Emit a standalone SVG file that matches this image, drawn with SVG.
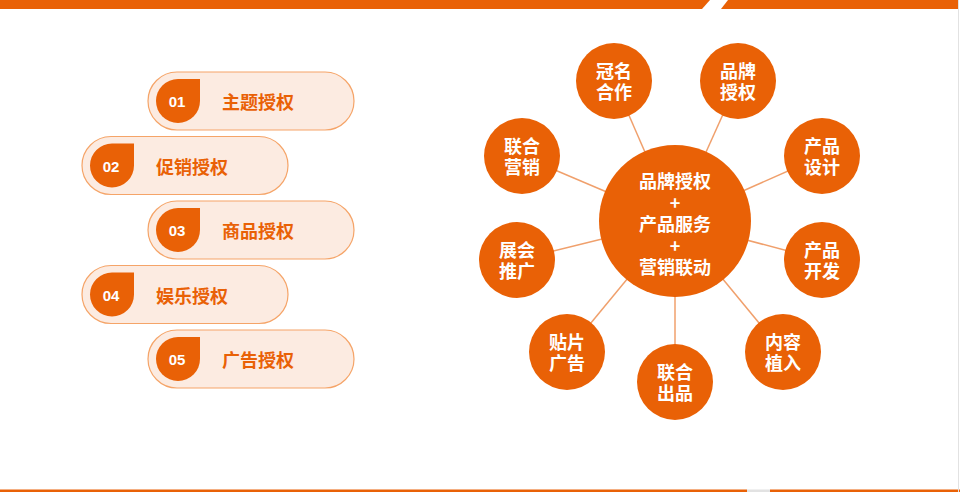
<svg xmlns="http://www.w3.org/2000/svg" width="960" height="492" viewBox="0 0 960 492">
<style>
.pill{fill:#FCEBE1;stroke:#F5A468;stroke-width:1.2}
.badge{fill:#E96106}
.num{font-family:"Liberation Sans",Arial,sans-serif;font-weight:bold;font-size:15px;fill:#FFFFFF;text-anchor:middle;dominant-baseline:central}
.lbl{font-family:"Noto Sans CJK SC","Noto Sans",sans-serif;font-weight:bold;font-size:18px;fill:#E96106;text-anchor:middle;dominant-baseline:central}
.node{fill:#E96106}
.ntx{font-family:"Noto Sans CJK SC","Noto Sans",sans-serif;font-weight:bold;font-size:18px;fill:#FFFFFF;text-anchor:middle;dominant-baseline:central}
.conn{stroke:#F0A06C;stroke-width:1.5;fill:none}
</style>
<rect x="0" y="0" width="960" height="492" fill="#FFFFFF"/>
<g id="frame">
<polygon points="0,0 710,0 702,9 0,9" fill="#E96106"/>
<polygon points="728,0 958,0 958,9 721,9" fill="#E96106"/>
<rect x="0" y="489.5" width="747" height="2.5" fill="#E96106"/>
<rect x="747" y="489.5" width="23" height="2.5" fill="#E2E2E2"/>
<rect x="770" y="489.5" width="190" height="2.5" fill="#E96106"/>
<line x1="958.5" y1="0" x2="958.5" y2="492" stroke="#E2E2E2" stroke-width="1"/>
</g>
<g id="item1">
<rect class="pill" x="148" y="72" width="206" height="58" rx="29"/>
<path class="badge" d="M178,79 L200,79 L200,101 A22,22 0 0 1 178,123 A22,22 0 0 1 156,101 A22,22 0 0 1 178,79 Z"/>
<text class="num" x="177" y="101.5">01</text>
<text class="lbl" x="258" y="101">主题授权</text>
</g>
<g id="item2">
<rect class="pill" x="82" y="136.5" width="206" height="58" rx="29"/>
<path class="badge" d="M112,143.5 L134,143.5 L134,165.5 A22,22 0 0 1 112,187.5 A22,22 0 0 1 90,165.5 A22,22 0 0 1 112,143.5 Z"/>
<text class="num" x="111" y="166">02</text>
<text class="lbl" x="192" y="165.5">促销授权</text>
</g>
<g id="item3">
<rect class="pill" x="148" y="201" width="206" height="58" rx="29"/>
<path class="badge" d="M178,208 L200,208 L200,230 A22,22 0 0 1 178,252 A22,22 0 0 1 156,230 A22,22 0 0 1 178,208 Z"/>
<text class="num" x="177" y="230.5">03</text>
<text class="lbl" x="258" y="230">商品授权</text>
</g>
<g id="item4">
<rect class="pill" x="82" y="265.5" width="206" height="58" rx="29"/>
<path class="badge" d="M112,272.5 L134,272.5 L134,294.5 A22,22 0 0 1 112,316.5 A22,22 0 0 1 90,294.5 A22,22 0 0 1 112,272.5 Z"/>
<text class="num" x="111" y="295">04</text>
<text class="lbl" x="192" y="294.5">娱乐授权</text>
</g>
<g id="item5">
<rect class="pill" x="148" y="330" width="206" height="58" rx="29"/>
<path class="badge" d="M178,337 L200,337 L200,359 A22,22 0 0 1 178,381 A22,22 0 0 1 156,359 A22,22 0 0 1 178,337 Z"/>
<text class="num" x="177" y="359.5">05</text>
<text class="lbl" x="258" y="359">广告授权</text>
</g>
<g id="connectors">
<line class="conn" x1="675" y1="221" x2="614" y2="81"/>
<line class="conn" x1="675" y1="221" x2="738" y2="81"/>
<line class="conn" x1="675" y1="221" x2="822" y2="156"/>
<line class="conn" x1="675" y1="221" x2="822" y2="260"/>
<line class="conn" x1="675" y1="221" x2="783" y2="352"/>
<line class="conn" x1="675" y1="221" x2="675" y2="382"/>
<line class="conn" x1="675" y1="221" x2="567" y2="352"/>
<line class="conn" x1="675" y1="221" x2="517" y2="260"/>
<line class="conn" x1="675" y1="221" x2="522" y2="156"/>
</g>
<g id="center">
<circle class="node" cx="675" cy="221" r="76"/>
<text class="ntx"><tspan x="675" y="180">品牌授权</tspan><tspan x="675" y="202">+</tspan><tspan x="675" y="223">产品服务</tspan><tspan x="675" y="245">+</tspan><tspan x="675" y="266">营销联动</tspan></text>
</g>
<g id="n1"><circle class="node" cx="614" cy="81" r="38"/><text class="ntx"><tspan x="614" y="70">冠名</tspan><tspan x="614" y="91">合作</tspan></text></g>
<g id="n2"><circle class="node" cx="738" cy="81" r="38"/><text class="ntx"><tspan x="738" y="70">品牌</tspan><tspan x="738" y="91">授权</tspan></text></g>
<g id="n3"><circle class="node" cx="822" cy="156" r="38"/><text class="ntx"><tspan x="822" y="145">产品</tspan><tspan x="822" y="166">设计</tspan></text></g>
<g id="n4"><circle class="node" cx="822" cy="260" r="38"/><text class="ntx"><tspan x="822" y="249">产品</tspan><tspan x="822" y="270">开发</tspan></text></g>
<g id="n5"><circle class="node" cx="783" cy="352" r="38"/><text class="ntx"><tspan x="783" y="341">内容</tspan><tspan x="783" y="362">植入</tspan></text></g>
<g id="n6"><circle class="node" cx="675" cy="382" r="38"/><text class="ntx"><tspan x="675" y="371">联合</tspan><tspan x="675" y="392">出品</tspan></text></g>
<g id="n7"><circle class="node" cx="567" cy="352" r="38"/><text class="ntx"><tspan x="567" y="341">贴片</tspan><tspan x="567" y="362">广告</tspan></text></g>
<g id="n8"><circle class="node" cx="517" cy="260" r="38"/><text class="ntx"><tspan x="517" y="249">展会</tspan><tspan x="517" y="270">推广</tspan></text></g>
<g id="n9"><circle class="node" cx="522" cy="156" r="38"/><text class="ntx"><tspan x="522" y="145">联合</tspan><tspan x="522" y="166">营销</tspan></text></g>
</svg>
